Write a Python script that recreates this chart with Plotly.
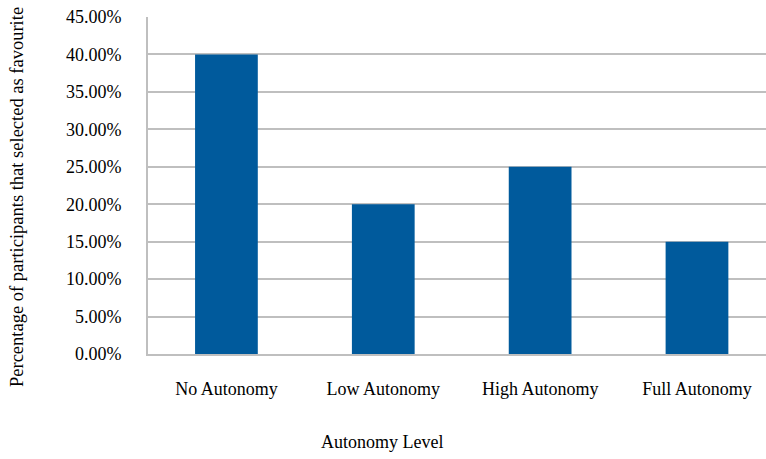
import plotly.graph_objects as go

categories = ["No Autonomy", "Low Autonomy", "High Autonomy", "Full Autonomy"]
values = [0.40, 0.20, 0.25, 0.15]
y_ticks = [i * 0.05 for i in range(10)]
y_tick_labels = [f"{v * 100:.2f}%" for v in y_ticks]

font_family = "Liberation Serif"
grid_color = "#BFBFBF"

fig = go.Figure(
    go.Bar(
        x=list(range(len(categories))),
        y=values,
        width=0.4,
        marker=dict(color="#005A9C", line=dict(width=0)),
    )
)

fig.update_layout(
    width=766,
    height=459,
    margin=dict(l=148, r=0, t=17, b=105),
    paper_bgcolor="white",
    plot_bgcolor="white",
    showlegend=False,
    font=dict(family=font_family, size=18, color="black"),
    xaxis=dict(
        range=[-0.5, 3.44],
        tickmode="array",
        tickvals=list(range(len(categories))),
        ticktext=categories,
        showgrid=False,
        zeroline=False,
        showline=True,
        linecolor=grid_color,
        linewidth=2,
        ticks="",
        ticklabelstandoff=17,
        tickfont=dict(family=font_family, size=18),
    ),
    yaxis=dict(
        range=[0, 0.45],
        tickmode="array",
        tickvals=y_ticks,
        ticktext=y_tick_labels,
        showgrid=True,
        gridcolor=grid_color,
        gridwidth=2,
        zeroline=False,
        showline=True,
        linecolor=grid_color,
        linewidth=2,
        ticks="",
        ticklabelstandoff=21,
        tickfont=dict(family=font_family, size=18),
    ),
    annotations=[
        dict(
            text="Autonomy Level",
            xref="paper", yref="paper",
            x=(382 - 148) / 618, y=-(442 - 354) / 337,
            xanchor="center", yanchor="middle",
            showarrow=False,
            font=dict(family=font_family, size=18),
        ),
        dict(
            text="Percentage of participants that selected as favourite",
            xref="paper", yref="paper",
            x=-(148 - 17) / 618, y=(354 - 197) / 337,
            xanchor="center", yanchor="middle",
            textangle=-90,
            showarrow=False,
            font=dict(family=font_family, size=18.5),
        ),
    ],
)

fig.write_html("out.html")
